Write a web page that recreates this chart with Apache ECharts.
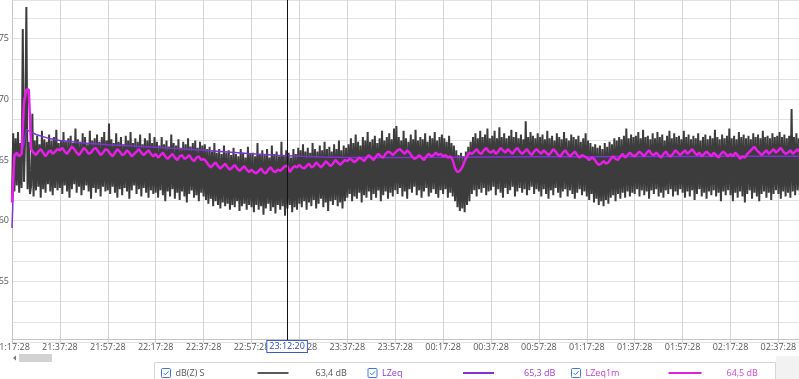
<!DOCTYPE html>
<html>
<head>
<meta charset="utf-8">
<style>html,body{margin:0;padding:0;background:#fff;}#c{width:799px;height:379px;}</style>
<script src="https://cdn.jsdelivr.net/npm/echarts@6/dist/echarts.min.js"></script>
</head>
<body>
<div id="c"></div>
<script>
// ---- data ----
const startClock = '21:17:28';
const fastStepSec = 30;        // dB(Z) S readings every 30 s
const stepSec = 60;            // LZeq1m one value per minute
const cursorSec = 6892;        // 23:12:20
const xTickLabels = ['21:17:28','21:37:28','21:57:28','22:17:28','22:37:28','22:57:28','23:17:28','23:37:28','23:57:28','00:17:28','00:37:28','00:57:28','01:17:28','01:37:28','01:57:28','02:17:28','02:37:28'];
const yTickLabels = [55, 60, 65, 70, 75];
const seriesNames = ['dB(Z) S', 'LZeq', 'LZeq1m'];
const cursorValues = ['63,4 dB', '65,3 dB', '64,5 dB'];

// dB(Z) S
const dbzS = [
62.0,67.2,62.4,66.8,62.9,67.3,62.3,66.4,62.7,75.8,63.2,66.9,77.6,62.6,66.5,62.2,62.9,68.8,62.0,66.6,
62.5,67.0,62.8,66.3,61.9,67.4,62.6,66.7,62.3,66.5,63.0,67.1,62.4,66.6,62.1,66.9,62.7,67.5,62.5,66.4,
62.7,66.6,62.2,67.3,62.9,66.5,62.4,66.8,61.9,67.0,62.6,66.4,63.0,67.6,62.3,66.7,62.8,66.5,62.1,67.2,
62.5,66.9,62.9,66.3,62.4,67.4,61.8,66.6,62.7,66.8,62.3,67.1,62.6,66.5,62.0,66.9,62.8,67.3,62.4,66.6,
62.5,68.0,62.2,66.7,62.8,66.4,62.3,67.2,61.9,66.5,62.6,66.9,62.1,66.3,62.7,67.0,62.4,66.6,61.8,67.3,
62.5,66.4,62.9,66.8,62.2,66.5,62.6,67.1,62.0,66.3,62.7,66.8,62.3,66.6,61.9,67.2,62.5,66.4,62.2,66.9,
62.3,66.5,61.9,66.2,62.5,66.9,62.1,66.3,61.6,66.6,62.4,66.1,62.0,67.1,62.6,66.4,61.8,66.2,62.3,66.7,
61.7,66.0,62.4,66.5,62.0,66.3,61.5,66.8,62.2,66.1,62.5,66.4,61.9,66.6,62.1,66.0,61.6,66.5,62.3,66.2,
62.0,66.3,61.7,65.9,61.4,66.1,61.8,65.7,61.2,66.4,61.6,65.6,61.3,65.9,61.0,65.5,61.5,66.2,61.2,65.6,
61.4,65.8,60.9,65.4,61.3,66.0,61.1,65.5,61.6,65.3,60.8,65.9,61.2,65.6,61.4,65.2,60.9,66.1,61.3,65.5,
61.1,65.6,60.7,65.3,61.3,66.4,60.9,65.5,61.2,65.8,60.5,65.4,61.0,65.9,61.4,65.2,60.8,66.2,61.1,65.5,
60.6,65.7,61.3,65.3,60.9,66.5,61.2,65.4,60.4,65.8,61.0,65.6,61.3,65.2,60.7,65.9,61.1,65.5,60.9,66.0,
61.4,65.8,61.1,66.3,61.6,65.7,60.9,66.0,61.5,65.6,61.2,66.4,61.7,65.9,61.0,65.7,61.4,66.2,61.8,65.8,
61.1,66.5,61.5,65.9,60.8,66.1,61.6,65.7,61.3,66.3,61.7,65.9,61.2,66.6,61.5,65.8,61.0,66.2,61.6,66.0,
61.9,66.3,62.2,66.8,61.6,66.4,62.0,67.1,61.8,66.5,62.3,66.2,61.5,66.9,62.1,66.6,61.9,67.3,62.4,66.5,
61.7,66.7,62.2,67.0,61.9,66.4,62.5,66.8,61.6,67.4,62.1,66.6,62.4,66.9,61.8,67.2,62.3,66.7,62.0,67.6,
62.5,67.8,62.2,66.9,62.7,66.6,62.0,67.4,62.4,66.8,61.8,66.5,62.6,67.1,62.3,66.7,62.8,67.5,62.1,66.6,
62.5,66.9,61.9,66.7,62.4,67.2,62.7,66.5,62.0,67.0,62.3,66.8,62.6,67.3,62.2,66.6,61.9,66.9,62.5,67.1,
62.2,66.8,62.6,66.5,61.9,67.0,62.3,66.4,62.0,66.2,61.6,65.8,61.1,65.4,60.8,65.6,61.0,65.3,60.7,65.7,
61.3,66.1,61.6,66.5,62.2,66.9,62.5,67.2,62.0,66.8,62.6,67.4,62.3,66.9,62.7,67.1,62.1,67.6,62.4,66.8,
62.5,67.0,62.8,67.4,62.1,66.8,62.6,67.7,62.3,66.9,61.9,67.2,62.7,66.8,62.2,67.0,62.5,67.5,62.8,66.9,
62.0,67.3,62.4,66.8,62.7,67.1,62.3,66.7,62.6,68.2,62.1,66.9,62.5,67.3,62.8,67.0,62.2,66.8,62.6,67.2,
62.4,66.9,62.0,67.1,62.6,66.7,62.2,67.4,61.8,66.8,62.5,67.0,62.1,66.6,62.7,67.2,62.3,66.9,61.9,66.7,
62.4,67.3,62.6,66.8,62.0,66.6,62.5,67.1,62.2,66.9,61.8,66.7,62.3,67.0,62.6,66.5,62.1,66.8,62.4,67.2,
62.0,66.6,61.7,66.4,62.2,66.1,61.5,66.3,61.8,66.0,61.3,66.2,61.6,65.9,61.2,66.4,61.7,66.1,61.4,66.5,
61.9,66.3,62.1,66.8,61.6,66.6,62.2,66.9,61.8,66.7,62.3,67.0,61.9,67.6,62.4,66.8,62.0,67.1,62.3,66.9,
62.2,67.0,62.6,67.3,62.0,66.8,62.5,67.5,62.1,66.9,62.4,67.0,61.8,66.7,62.5,67.2,62.2,66.8,62.6,67.3,
62.0,66.9,62.3,67.1,61.9,66.6,62.5,67.0,62.2,67.4,62.6,66.8,62.0,67.2,62.4,66.9,62.1,67.0,62.6,66.7,
62.3,67.4,61.9,66.9,62.4,67.1,62.0,66.7,62.5,67.0,61.7,66.8,62.2,67.2,62.6,66.6,62.0,66.9,62.3,67.1,
61.8,66.7,62.4,67.0,62.1,66.8,62.5,67.5,62.0,66.9,62.3,66.7,61.6,67.1,62.4,66.8,62.1,67.0,62.5,67.6,
62.1,66.8,61.6,67.0,62.3,66.7,61.9,67.3,62.4,66.9,62.0,67.1,61.5,66.8,62.2,67.0,62.5,66.7,61.8,67.2,
62.3,66.9,62.0,67.1,61.6,66.8,62.2,67.4,62.4,66.9,61.9,67.0,62.3,66.8,61.7,67.2,62.2,66.9,62.5,67.0,
62.2,67.3,61.8,66.9,62.4,67.1,62.0,66.8,62.3,67.0,61.9,69.2,62.4,66.9,62.1,67.2,62.5,66.8,62.0,67.1
];

// LZeq1m (one value per minute)
const lzeq1m = [
61.5,65.4,65.6,65.3,65.5,69.7,70.8,70.8,65.9,65.6,65.4,65.7,65.9,65.6,65.3,65.6,65.8,65.5,65.7,65.9,
65.8,66.0,65.7,65.5,65.8,66.1,65.9,65.6,65.4,65.7,66.0,65.8,65.5,65.6,65.9,66.0,65.7,65.4,65.6,65.9,
65.8,65.5,65.3,65.6,65.9,65.7,65.4,65.5,65.8,65.6,65.3,65.5,65.7,65.9,65.6,65.4,65.6,65.8,65.5,65.3,
65.5,65.2,65.4,65.6,65.3,65.1,65.3,65.5,65.2,65.0,65.3,65.4,65.1,65.2,65.4,65.1,64.9,65.2,65.3,65.0,
65.1,64.9,64.6,64.4,64.6,64.8,64.5,64.3,64.5,64.7,64.4,64.2,64.4,64.6,64.3,64.1,64.3,64.5,64.2,64.0,
64.2,64.0,63.9,64.1,64.3,64.0,63.9,64.2,64.4,64.1,64.0,64.2,64.1,64.3,64.5,64.5,64.0,64.3,64.5,64.4,
64.6,64.4,64.3,64.5,64.7,64.4,64.5,64.8,64.6,64.4,64.6,64.9,64.7,64.5,64.7,65.0,64.8,64.6,64.8,65.0,
64.9,65.1,65.0,64.8,65.0,65.2,65.1,64.9,65.2,65.4,65.2,65.0,65.3,65.5,65.3,65.2,65.5,65.7,65.6,65.4,
65.6,65.8,65.9,65.7,65.5,65.8,65.6,65.3,65.1,65.2,65.4,65.2,65.0,65.3,65.5,65.3,65.4,65.6,65.4,65.5,
65.3,65.4,65.2,65.3,65.0,64.3,64.0,64.1,64.4,64.9,65.3,65.6,65.5,65.7,65.9,65.6,65.5,65.8,66.0,65.7,
65.6,65.8,65.5,65.7,66.0,65.8,65.6,65.9,65.7,65.5,65.8,66.0,65.7,65.5,65.7,65.9,65.6,65.4,65.7,65.9,
65.7,65.5,65.8,65.6,65.4,65.6,65.9,65.7,65.4,65.3,65.6,65.8,65.5,65.3,65.5,65.7,65.4,65.2,65.4,65.3,
65.2,65.0,65.2,65.1,64.8,64.6,64.7,64.9,64.7,64.8,65.1,65.3,65.1,65.0,65.3,65.5,65.2,65.4,65.6,65.4,
65.3,65.5,65.7,65.5,65.3,65.6,65.8,65.5,65.4,65.6,65.4,65.2,65.5,65.7,65.4,65.3,65.5,65.8,65.6,65.4,
65.6,65.8,65.5,65.7,65.9,65.6,65.4,65.6,65.3,65.5,65.7,65.5,65.3,65.6,65.4,65.2,65.5,65.7,65.5,65.3,
65.5,65.3,65.6,65.4,65.1,65.3,65.2,65.5,65.7,65.9,66.1,65.8,65.6,65.4,65.6,65.8,65.5,65.7,65.9,65.6,
65.8,66.0,65.7,65.5,65.6,65.8,65.5,65.7,65.9,65.6
];

// LZeq (running average) at given seconds from start
const lzeqSec = [0,60,120,240,300,360,420,600,900,1200,1800,2400,3000,3600,4200,4800,5400,6000,6600,7200,7800,8400,9000,9600,10800,12000,13200,14400,15600,16800,18000,19740];
const lzeqVal = [59.4,65.2,65.4,65.5,66.4,67.5,67.4,67.1,66.8,66.6,66.4,66.25,66.15,66.05,65.93,65.8,65.66,65.52,65.4,65.3,65.25,65.21,65.2,65.2,65.22,65.25,65.26,65.27,65.28,65.29,65.3,65.3];

// ---- build ----
function clockToSec(s){const p=s.split(':').map(Number);return p[0]*3600+p[1]*60+p[2];}
const startSec = clockToSec(startClock);
function fmtClock(v){
  let s=((startSec+Math.round(v))%86400+86400)%86400;
  const h=Math.floor(s/3600), m=Math.floor((s%3600)/60), x=s%60;
  const p=n=>String(n).padStart(2,'0');
  return p(h)+':'+p(m)+':'+p(x);
}
const dbzData = dbzS.map((v,i)=>[i*fastStepSec, v]);
const eq1mData = lzeq1m.map((v,i)=>[i*stepSec, v]);
const eqData = lzeqSec.map((t,i)=>[t, lzeqVal[i]]);

const colors = ['#3c3c3c', '#7d32d4', '#e61ee6'];
const FONT = '"Open Sans", "Noto Sans", sans-serif';

const chart = echarts.init(document.getElementById('c'), null, {renderer:'canvas'});
chart.setOption({
  animation: false,
  backgroundColor: '#ffffff',
  textStyle: {fontFamily: FONT},
  grid: {left: 12, right: 0, top: 0, bottom: 36.9, containLabel: false, outerBoundsMode: 'none'},
  axisPointer: {triggerOn: 'none'},
  xAxis: {
    type: 'value', min: 0, max: 19716, interval: 1200, offset: -3,
    axisLine: {show: true, lineStyle: {color: '#c4c4c4'}},
    axisTick: {show: false},
    axisLabel: {fontSize: 9, color: '#555', margin: 4, fontFamily: FONT, showMaxLabel: false, hideOverlap: false,
      formatter: v => { const k = Math.round(v/1200); return (Math.abs(v-k*1200)<1 && xTickLabels[k]) ? xTickLabels[k] : ''; }},
    splitLine: {show: true, lineStyle: {color: '#d4d4d4', width: 1}},
    axisPointer: {
      show: true, status: 'show', value: cursorSec, snap: false, triggerTooltip: false,
      lineStyle: {color: '#111', width: 1, type: 'solid'},
      handle: {show: false},
      label: {show: true, formatter: p => fmtClock(p.value), backgroundColor: '#ffffff', borderColor: '#3a5cc4', borderWidth: 1, borderRadius: 0,
        color: '#2a48b0', fontSize: 9, fontFamily: FONT, padding: [1, 2, 1, 2], margin: 2, shadowBlur: 0}
    }
  },
  yAxis: {
    type: 'value', min: 50, max: 78.18, interval: 5/3,
    axisLine: {show: true, lineStyle: {color: '#c4c4c4'}},
    axisTick: {show: false},
    axisLabel: {fontSize: 9, color: '#555', margin: 3, fontFamily: FONT, showMaxLabel: false, showMinLabel: false,
      formatter: v => { const r = Math.round(v); return (Math.abs(v-r)<1e-6 && yTickLabels.indexOf(r)>=0) ? String(r) : ''; }},
    splitLine: {show: true, lineStyle: {color: '#e2e2e2', width: 1}}
  },
  legend: {
    left: 161, top: 367, padding: 0, itemGap: 7, itemWidth: 9, itemHeight: 9, selectedMode: false,
    icon: 'path://M1.5,0.5h7a1,1 0 0 1 1,1v7a1,1 0 0 1 -1,1h-7a1,1 0 0 1 -1,-1v-7a1,1 0 0 1 1,-1z M2.6,5 L4.4,6.8 L7.6,3.2',
    itemStyle: {color: 'rgba(255,255,255,0)', borderColor: '#3c78d8', borderWidth: 1},
    lineStyle: {width: 0, opacity: 0},
    data: seriesNames,
    formatter: name => {
      const k = seriesNames.indexOf(name);
      return '{n'+k+'|'+name+'}{l'+k+'| }{s'+k+'|}{v'+k+'|'+cursorValues[k]+'}';
    },
    textStyle: {
      fontSize: 9, fontFamily: FONT, lineHeight: 12,
      rich: {
        n0: {width: 82, color: '#555', fontSize: 9, fontFamily: FONT},
        n1: {width: 81, color: '#8a3ccf', fontSize: 9, fontFamily: FONT},
        n2: {width: 83, color: '#c43cc8', fontSize: 9, fontFamily: FONT},
        l0: {width: 31, height: 1.5, lineHeight: 12, backgroundColor: '#222', fontSize: 1},
        l1: {width: 31, height: 2, lineHeight: 12, backgroundColor: '#8232d2', fontSize: 1},
        l2: {width: 33, height: 2, lineHeight: 12, backgroundColor: '#e020e0', fontSize: 1},
        s0: {width: 27}, s1: {width: 30}, s2: {width: 25},
        v0: {width: 45, color: '#555', fontSize: 9, fontFamily: FONT},
        v1: {width: 40, color: '#a23cc8', fontSize: 9, fontFamily: FONT},
        v2: {width: 45, color: '#d448d4', fontSize: 9, fontFamily: FONT}
      }
    }
  },
  graphic: [
    {type: 'rect', z: -10, shape: {x: 154.5, y: 362.5, width: 621, height: 30}, style: {fill: '#ffffff', stroke: '#d6d6d6', lineWidth: 1}},
    {type: 'rect', z: -10, shape: {x: 776, y: 356, width: 30, height: 30}, style: {fill: '#f2f2f2'}},
    {type: 'rect', z: -10, shape: {x: 19, y: 354, width: 33, height: 8}, style: {fill: '#d2d2d2'}},
    {type: 'polygon', z: -10, shape: {points: [[13,358],[16,355.5],[16,360.5]]}, style: {fill: '#777'}}
  ],
  series: [
    {name: seriesNames[0], type: 'line', data: dbzData, showSymbol: false, symbol: 'none', z: 2, sampling: null,
      color: colors[0], lineStyle: {color: colors[0], width: 2}},
    {name: seriesNames[1], type: 'line', data: eqData, showSymbol: false, symbol: 'none', z: 3,
      color: colors[1], lineStyle: {color: colors[1], width: 1.5}},
    {name: seriesNames[2], type: 'line', data: eq1mData, showSymbol: false, symbol: 'none', z: 4,
      color: colors[2], lineStyle: {color: colors[2], width: 2.5}}
  ]
});
</script>
</body>
</html>
